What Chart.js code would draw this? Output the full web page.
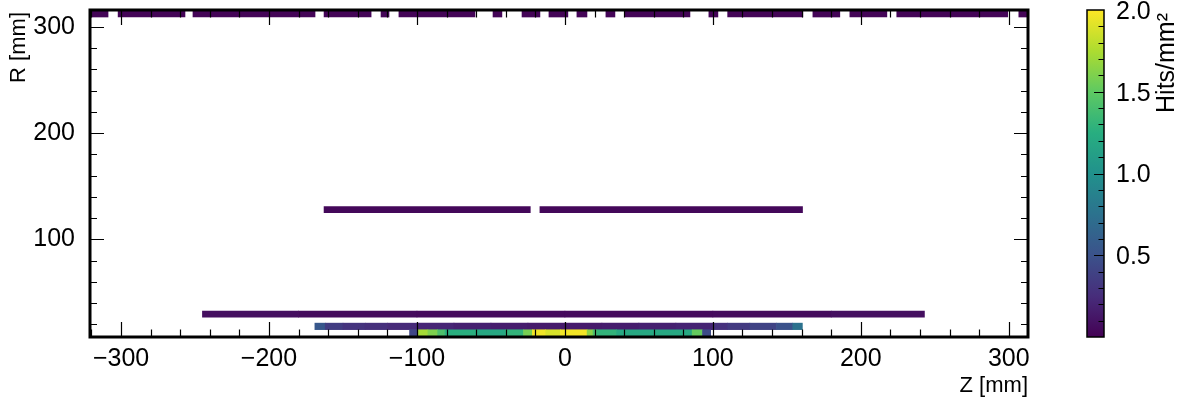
<!DOCTYPE html>
<html>
<head>
<meta charset="utf-8">
<script src="https://cdn.jsdelivr.net/npm/chart.js@4.4.1/dist/chart.umd.min.js"></script>
<style>
  html, body { margin: 0; padding: 0; background: #fff; }
  #wrap { position: relative; width: 1182px; height: 397px; }
  #mapChart { position: absolute; left: 0; top: 0; }
  #scaleChart { position: absolute; left: 1060px; top: 0; }
</style>
</head>
<body>
<div id="wrap">
  <canvas id="mapChart" width="1060" height="397"></canvas>
  <canvas id="scaleChart" width="122" height="397"></canvas>
</div>
<script>
// axis ticks
const zTicks = [-300, -200, -100, 0, 100, 200, 300];
const rTicks = [100, 200, 300];
const hitTicks = [0.5, 1.0, 1.5, 2.0];

// layer radii [mm]
const layerR = [12, 18, 29.5, 128, 312.7];

// innermost layer (R ~ 12 mm)
const l0Start = [-105, -99, -92.6, -86, -81, -60, -40, -28, -22, -13, -3, 15, 19, 21.6, 35, 86, 93];
const l0End   = [-99, -92.6, -86, -81, -60, -40, -28, -22, -13, -3, 15, 19, 21.6, 35, 86, 93, 98.5];
const l0Hits  = [0.42, 1.72, 1.6, 1.42, 1.26, 1.2, 1.3, 1.58, 1.96, 1.88, 1.97, 1.64, 1.42, 1.3, 1.2, 1.52, 0.45];

// second layer (R ~ 18 mm)
const l1Start = [-169, -162, -150, -135, -120, -100, -75, -50, -25, 0, 25, 50, 75, 100, 110, 125, 143, 154];
const l1End   = [-162, -150, -135, -120, -100, -75, -50, -25, 0, 25, 50, 75, 100, 110, 125, 143, 154, 160.5];
const l1Hits  = [0.55, 0.36, 0.3, 0.27, 0.24, 0.21, 0.18, 0.16, 0.15, 0.15, 0.16, 0.18, 0.2, 0.28, 0.34, 0.4, 0.5, 0.75];

// third layer (R ~ 29.5 mm)
const l2Start = [-245, -180, -100, 0, 100, 180];
const l2End   = [-180, -100, 0, 100, 180, 243];
const l2Hits  = [0.08, 0.06, 0.05, 0.05, 0.06, 0.08];

// middle layer (R ~ 128 mm)
const l3Start = [-162.8, -16.9];
const l3End   = [-23.4, 160.6];
const l3Hits  = [0.04, 0.04];

// outer layer (R ~ 313 mm)
const l4Start = [-320, -302, -251.4, -162.8, -124.3, -112.2, -48.6, -29, -10.8, 8.1, 27.7, 40.5, 97.3, 110, 167.6, 192.6, 224.3, 306.8];
const l4End   = [-308.8, -256.8, -168.9, -131, -118.9, -60.8, -42.6, -16.9, 2, 14.9, 33.8, 84.5, 103.4, 160.8, 185.8, 217.6, 299.3, 312.2];
const l4Hits  = [0.02, 0.02, 0.02, 0.02, 0.02, 0.02, 0.02, 0.02, 0.02, 0.02, 0.02, 0.02, 0.02, 0.02, 0.02, 0.02, 0.02, 0.02];

const FONT = "'Liberation Sans', Arial, sans-serif";
const HIT_MAX = 2.0;
const VIRIDIS = ['#440154', '#472d7b', '#3b528b', '#2c728e', '#21918c', '#28ae80', '#5ec962', '#addc30', '#fde725'];

function hexToRgb(h) {
    return [parseInt(h.slice(1, 3), 16), parseInt(h.slice(3, 5), 16), parseInt(h.slice(5, 7), 16)];
}

function viridis(v) {
    let t = Math.max(0, Math.min(1, v / HIT_MAX)) * (VIRIDIS.length - 1);
    const i = Math.min(Math.floor(t), VIRIDIS.length - 2);
    const f = t - i;
    const a = hexToRgb(VIRIDIS[i]), b = hexToRgb(VIRIDIS[i + 1]);
    const c = a.map((x, k) => Math.round(x + (b[k] - x) * f));
    return `rgb(${c[0]},${c[1]},${c[2]})`;
}

function layer(r, starts, ends, hits, thick) {
    return {
        data: starts.map((s, i) => ({ x: [s, ends[i]], y: r })),
        backgroundColor: hits.map(viridis),
        barThickness: thick,
        grouped: false,
        borderWidth: 0
    };
}

function fmtZ(v) {
    return v < 0 ? '\u2212' + Math.abs(v) : String(v);
}

// ROOT-like frame with inward ticks on all four sides
const frameTicks = {
    id: 'frameTicks',
    afterDatasetsDraw(chart) {
        const { ctx, chartArea: a, scales: { x, y } } = chart;
        ctx.save();
        ctx.strokeStyle = '#000';
        ctx.lineWidth = 1.2;
        ctx.beginPath();
        for (let v = -320; v <= 320; v += 20) {
            if (v < x.min || v > x.max) continue;
            const len = v % 100 === 0 ? 15 : 7.5;
            const px = Math.round(x.getPixelForValue(v)) + 0.5;
            ctx.moveTo(px, a.bottom); ctx.lineTo(px, a.bottom - len);
            ctx.moveTo(px, a.top); ctx.lineTo(px, a.top + len);
        }
        for (let v = 20; v <= 300; v += 20) {
            const len = v % 100 === 0 ? 14 : 7;
            const py = Math.round(y.getPixelForValue(v)) + 0.5;
            ctx.moveTo(a.left, py); ctx.lineTo(a.left + len, py);
            ctx.moveTo(a.right, py); ctx.lineTo(a.right - len, py);
        }
        ctx.stroke();
        ctx.lineWidth = 3;
        ctx.strokeRect(a.left, a.top, a.right - a.left, a.bottom - a.top);
        // y axis title, top aligned as in ROOT
        ctx.translate(19, 12);
        ctx.rotate(-Math.PI / 2);
        ctx.fillStyle = '#000';
        ctx.font = `22px ${FONT}`;
        ctx.textAlign = 'right';
        ctx.textBaseline = 'middle';
        ctx.fillText('R [mm]', 0, 0);
        ctx.restore();
    }
};

new Chart(document.getElementById('mapChart'), {
    type: 'bar',
    data: {
        datasets: [
            layer(layerR[0], l0Start, l0End, l0Hits, 6),
            layer(layerR[1], l1Start, l1End, l1Hits, 6.5),
            layer(layerR[2], l2Start, l2End, l2Hits, 6),
            layer(layerR[3], l3Start, l3End, l3Hits, 6),
            layer(layerR[4], l4Start, l4End, l4Hits, 7)
        ]
    },
    options: {
        responsive: false,
        animation: false,
        events: [],
        indexAxis: 'y',
        layout: { padding: { top: 10, right: 32, left: 0, bottom: 0 } },
        plugins: { legend: { display: false }, tooltip: { enabled: false } },
        scales: {
            x: {
                type: 'linear', min: -321, max: 313, position: 'bottom', offset: false,
                afterBuildTicks: s => { s.ticks = zTicks.map(v => ({ value: v })); },
                afterFit: s => { s.height = 60; s.paddingLeft = 0; s.paddingRight = 0; },
                grid: { display: false }, border: { display: false },
                ticks: { font: { family: FONT, size: 25 }, color: '#000', padding: -1, maxRotation: 0, autoSkip: false, callback: v => fmtZ(v) },
                title: { display: true, text: 'Z [mm]', align: 'end', color: '#000', font: { family: FONT, size: 22 }, padding: { top: 0, bottom: -2 } }
            },
            y: {
                type: 'linear', min: 8, max: 316, position: 'left', offset: false,
                afterBuildTicks: s => { s.ticks = rTicks.map(v => ({ value: v })); },
                afterFit: s => { s.width = 90; s.paddingTop = 0; s.paddingBottom = 0; },
                grid: { display: false, offset: false }, border: { display: false },
                ticks: { font: { family: FONT, size: 25 }, color: '#000', padding: 7, autoSkip: false }
            }
        }
    },
    plugins: [frameTicks]
});

// colour scale
function paletteFill(chart) {
    const a = chart.chartArea;
    if (!a) return VIRIDIS[0];
    const g = chart.ctx.createLinearGradient(0, a.bottom, 0, a.top);
    VIRIDIS.forEach((c, i) => g.addColorStop(i / (VIRIDIS.length - 1), c));
    return g;
}

const scaleDeco = {
    id: 'scaleDeco',
    afterDatasetsDraw(chart) {
        const { ctx, chartArea: a, scales: { y } } = chart;
        ctx.save();
        ctx.strokeStyle = '#000';
        ctx.lineWidth = 1.2;
        ctx.beginPath();
        for (let i = 1; i < 20; i++) {
            const v = i / 10;
            const len = i % 5 === 0 ? 10 : 5.5;
            const py = Math.round(y.getPixelForValue(v)) + 0.5;
            ctx.moveTo(a.right, py); ctx.lineTo(a.right - len, py);
        }
        ctx.stroke();
        ctx.lineWidth = 1.5;
        ctx.strokeRect(a.left, a.top, a.right - a.left, a.bottom - a.top);
        ctx.translate(107, 13);
        ctx.rotate(-Math.PI / 2);
        ctx.fillStyle = '#000';
        ctx.font = `25px ${FONT}`;
        ctx.textAlign = 'right';
        ctx.textBaseline = 'middle';
        ctx.fillText('Hits/mm\u00b2', 0, 0);
        ctx.restore();
    }
};

new Chart(document.getElementById('scaleChart'), {
    type: 'bar',
    data: {
        labels: [''],
        datasets: [{
            data: [[0, HIT_MAX]],
            backgroundColor: c => paletteFill(c.chart),
            barPercentage: 1, categoryPercentage: 1, borderWidth: 0
        }]
    },
    options: {
        responsive: false,
        animation: false,
        events: [],
        layout: { padding: { left: 27, top: 10, bottom: 60, right: 0 } },
        plugins: { legend: { display: false }, tooltip: { enabled: false } },
        scales: {
            x: { display: false },
            y: {
                min: 0, max: HIT_MAX, position: 'right',
                afterBuildTicks: s => { s.ticks = hitTicks.map(v => ({ value: v })); },
                afterFit: s => { s.width = 78; s.paddingTop = 0; s.paddingBottom = 0; },
                grid: { display: false }, border: { display: false },
                ticks: { font: { family: FONT, size: 25 }, color: '#000', padding: 4, labelOffset: 2, callback: v => v.toFixed(1) }
            }
        }
    },
    plugins: [scaleDeco]
});
</script>
</body>
</html>
